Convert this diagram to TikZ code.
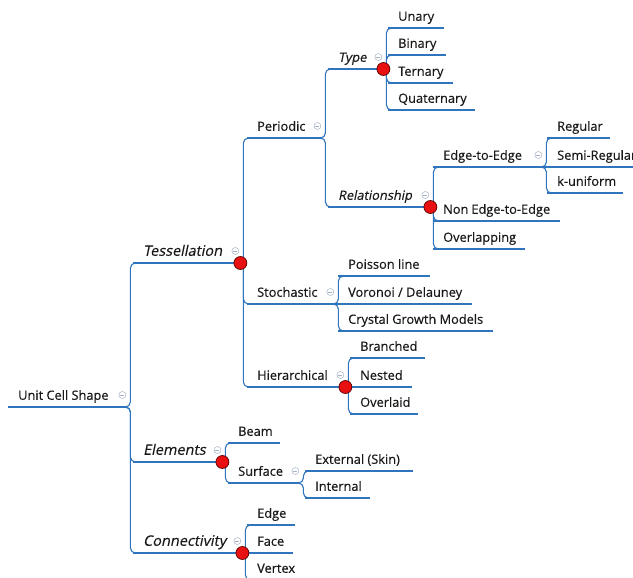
\documentclass[tikz,border=0pt]{standalone}
\usepackage{fontspec}
\setmainfont{Open Sans}[FakeBold=0.4]
\newfontfamily\slantfamily{Open Sans}[FakeSlant=0.2, FakeBold=0.4]

\definecolor{mapblue}{RGB}{46,117,190}
\definecolor{foldgray}{RGB}{165,178,196}
\definecolor{hubred}{RGB}{232,16,16}

\newcommand{\mapfont}{\fontsize{12.8}{15}\selectfont}
\newcommand{\mainfont}{\fontsize{14.5}{17}\selectfont\slantfamily}

\tikzset{
    % a topic: text sitting on a blue underline of fixed length
    topic/.style={anchor=south west, inner xsep=10pt, inner ysep=0pt,
        text height=9pt, text depth=7pt, font=\mapfont, text=black!90,
        execute at begin node={\hbox to #1\bgroup},
        execute at end node={\hfil\egroup},
        append after command={(\tikzlastnode.south west) edge[topicline] (\tikzlastnode.south east)}},
    idea/.style={topic=#1, font=\mapfont\slantfamily},
    mainidea/.style={topic=#1, font=\mainfont},
    topicline/.style={draw=mapblue, line width=1.6pt},
    branch/.style={draw=mapblue, line width=1.1pt, rounded corners=5pt},
    hub/.style={circle, fill=hubred, draw=red!35!black, line width=0.7pt,
        minimum size=13pt, inner sep=0pt},
    fold/.style={circle, draw=foldgray, line width=0.5pt, minimum size=7pt, inner sep=0pt,
        path picture={\draw[foldgray, line width=0.5pt]
            ([xshift=-2pt]path picture bounding box.center) -- ([xshift=2pt]path picture bounding box.center);}}
}

\begin{document}
\begin{tikzpicture}[x=1pt, y=-1pt]

    \useasboundingbox (0,0) rectangle (633,578);

    % --- Root and first level ---
    \node[topic=99pt] (root) at (8,407) {Unit Cell Shape};
    \node[mainidea=87pt] (tess) at (133,263) {Tessellation};
    \node[mainidea=69pt] (elem) at (133,462) {Elements};
    \node[mainidea=89pt] (conn) at (133,553) {Connectivity};

    % --- Tessellation ---
    \node[topic=55pt] (periodic) at (247,138) {Periodic};
    \node[topic=68pt] (stoch) at (247,304) {Stochastic};
    \node[topic=78pt] (hier) at (247,387) {Hierarchical};

    % Periodic
    \node[idea=35pt] (type) at (328,69) {Type};
    \node[idea=82pt] (relat) at (328,207) {Relationship};

    \node[topic=36pt] (unary) at (388,28) {Unary};
    \node[topic=38pt] (binary) at (388,55) {Binary};
    \node[topic=45pt] (ternary) at (388,83) {Ternary};
    \node[topic=67pt] (quat) at (388,110) {Quaternary};

    \node[topic=90pt] (e2e) at (433,167) {Edge-to-Edge};
    \node[topic=107pt] (ne2e) at (433,221) {Non Edge-to-Edge};
    \node[topic=72pt] (overlap) at (433,249) {Overlapping};

    \node[topic=43pt] (regular) at (547,138) {Regular};
    \node[topic=93pt] (semireg) at (547,167) {Semi-Regular};
    \node[topic=56pt] (kuni) at (547,193) {k-uniform};

    % Stochastic
    \node[topic=72pt] (poisson) at (338,276) {Poisson line};
    \node[topic=114pt] (voronoi) at (338,304) {Voronoi / Delauney};
    \node[topic=135pt] (crystal) at (338,331) {Crystal Growth Models};

    % Hierarchical
    \node[topic=55pt] (branched) at (350,358) {Branched};
    \node[topic=42pt] (nested) at (350,387) {Nested};
    \node[topic=48pt] (overlaid) at (350,414) {Overlaid};

    % --- Elements ---
    \node[topic=32pt] (beam) at (228,443) {Beam};
    \node[topic=52pt] (surface) at (228,483) {Surface};
    \node[topic=88pt] (external) at (305,471) {External (Skin)};
    \node[topic=45pt] (internal) at (305,498) {Internal};

    % --- Connectivity ---
    \node[topic=28pt] (edge) at (247,525) {Edge};
    \node[topic=26pt] (face) at (247,553) {Face};
    \node[topic=38pt] (vertex) at (247,580) {Vertex};

    % --- Branches ---
    \foreach \p/\c in {root/tess, root/elem, root/conn,
            tess/periodic, tess/stoch, tess/hier,
            periodic/type, periodic/relat,
            type/unary, type/binary, type/ternary, type/quat,
            relat/e2e, relat/ne2e, relat/overlap, e2e/regular, e2e/kuni,
            stoch/poisson, stoch/crystal, hier/branched, hier/overlaid,
            elem/beam, elem/surface, surface/external, surface/internal,
            conn/edge, conn/vertex}
        \draw[branch] ([xshift=-8pt]\p.south east) -- ([xshift=3pt]\p.south east)
            |- ([xshift=10pt]\c.south west);

    % children on the same line as their parent
    \foreach \p/\c in {e2e/semireg, stoch/voronoi, hier/nested, conn/face}
        \draw[branch] (\p.south east) -- (\c.south west);

    % --- Fold icons and red markers ---
    \foreach \n in {root, tess, elem, conn, periodic, stoch, hier, type, relat, e2e, surface}
        \node[fold] at ([shift={(-5,-12)}]\n.south east) {};

    \foreach \n in {tess, type, relat, hier, elem, conn}
        \node[hub] at (\n.south east) {};

\end{tikzpicture}
\end{document}
